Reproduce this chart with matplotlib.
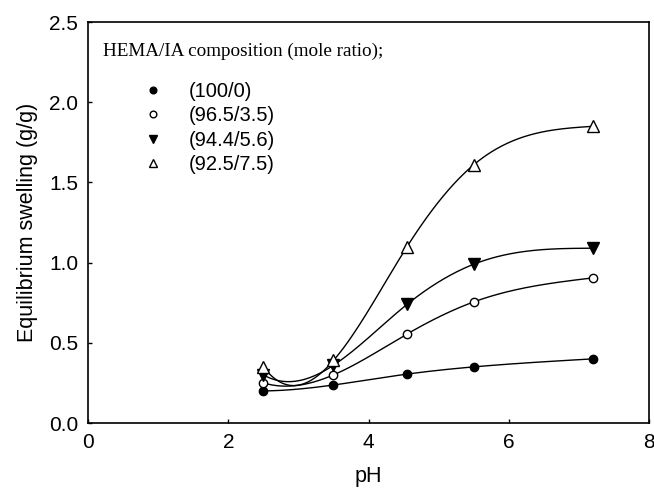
import numpy as np
import matplotlib
matplotlib.use("Agg")
import matplotlib.pyplot as plt
from matplotlib.lines import Line2D

ph = [2.5, 3.5, 4.55, 5.5, 7.2]
s_100_0 = [0.20, 0.237, 0.305, 0.35, 0.40]
s_965_35 = [0.25, 0.30, 0.555, 0.755, 0.905]
s_944_56 = [0.30, 0.36, 0.74, 0.99, 1.09]
s_925_75 = [0.35, 0.39, 1.10, 1.61, 1.85]
labels = ["(100/0)", "(96.5/3.5)", "(94.4/5.6)", "(92.5/7.5)"]
header = "HEMA/IA composition (mole ratio);"


def spline(x, y, xs):
    """Cubic spline: not-a-knot at the left end, natural at the right end."""
    x = np.asarray(x, float); y = np.asarray(y, float)
    n = len(x)
    h = np.diff(x)
    A = np.zeros((n, n)); b = np.zeros(n)
    A[0, 0] = -1 / h[0]; A[0, 1] = 1 / h[0] + 1 / h[1]; A[0, 2] = -1 / h[1]
    A[-1, -1] = 1
    for i in range(1, n - 1):
        A[i, i - 1] = h[i - 1]
        A[i, i] = 2 * (h[i - 1] + h[i])
        A[i, i + 1] = h[i]
        b[i] = 6 * ((y[i + 1] - y[i]) / h[i] - (y[i] - y[i - 1]) / h[i - 1])
    M = np.linalg.solve(A, b)
    out = np.empty_like(xs)
    for k, xv in enumerate(xs):
        i = min(max(np.searchsorted(x, xv) - 1, 0), n - 2)
        t1 = x[i + 1] - xv; t0 = xv - x[i]
        out[k] = (M[i] * t1**3 / (6 * h[i]) + M[i + 1] * t0**3 / (6 * h[i])
                  + (y[i] / h[i] - M[i] * h[i] / 6) * t1
                  + (y[i + 1] / h[i] - M[i + 1] * h[i] / 6) * t0)
    return out


plt.rcParams['font.family'] = ['Liberation Sans', 'DejaVu Sans']

fig = plt.figure(figsize=(6.54, 4.9), dpi=100)
ax = fig.add_axes([0.1346, 0.1367, 0.8578, 0.8183])

series = [s_100_0, s_965_35, s_944_56, s_925_75]
styles = [dict(marker="o", mfc="black", ms=6),
          dict(marker="o", mfc="white", ms=6),
          dict(marker="v", mfc="black", ms=8),
          dict(marker="^", mfc="white", ms=8)]
xs = np.linspace(ph[0], ph[-1], 300)
for s, st in zip(series, styles):
    ax.plot(xs, spline(ph, s, xs), color="black", lw=1.0, zorder=2)
    ax.plot(ph, s, linestyle="none", mec="black", mew=1.0, zorder=3, **st)

ax.set_xlim(0, 8)
ax.set_ylim(0, 2.5)
ax.set_xticks([0, 2, 4, 6, 8])
ax.set_yticks([0.0, 0.5, 1.0, 1.5, 2.0, 2.5])
ax.set_yticklabels(["0.0", "0.5", "1.0", "1.5", "2.0", "2.5"])
ax.tick_params(direction="in", length=3, width=1, labelsize=15, pad=7)
for sp in ax.spines.values():
    sp.set_linewidth(1.2)
ax.set_xlabel("pH", fontsize=15.5, labelpad=10)
ax.set_ylabel("Equilibrium swelling (g/g)", fontsize=15.5, labelpad=8)

ax.text(0.027, 0.928, header, transform=ax.transAxes, fontsize=13.8,
        family="Liberation Serif", va="center", ha="left")

handles = [Line2D([], [], linestyle="none", color="black", mec="black",
                  marker=st["marker"], mfc=st["mfc"], ms=st["ms"] * 0.8)
           for st in styles]
ax.legend(handles, labels, loc="upper left", bbox_to_anchor=(0.098, 0.85),
          frameon=False, fontsize=14.5, handlelength=1.0, handletextpad=1.25,
          labelspacing=0.26, borderaxespad=0, borderpad=0)

fig.savefig("out.png", dpi=100)
